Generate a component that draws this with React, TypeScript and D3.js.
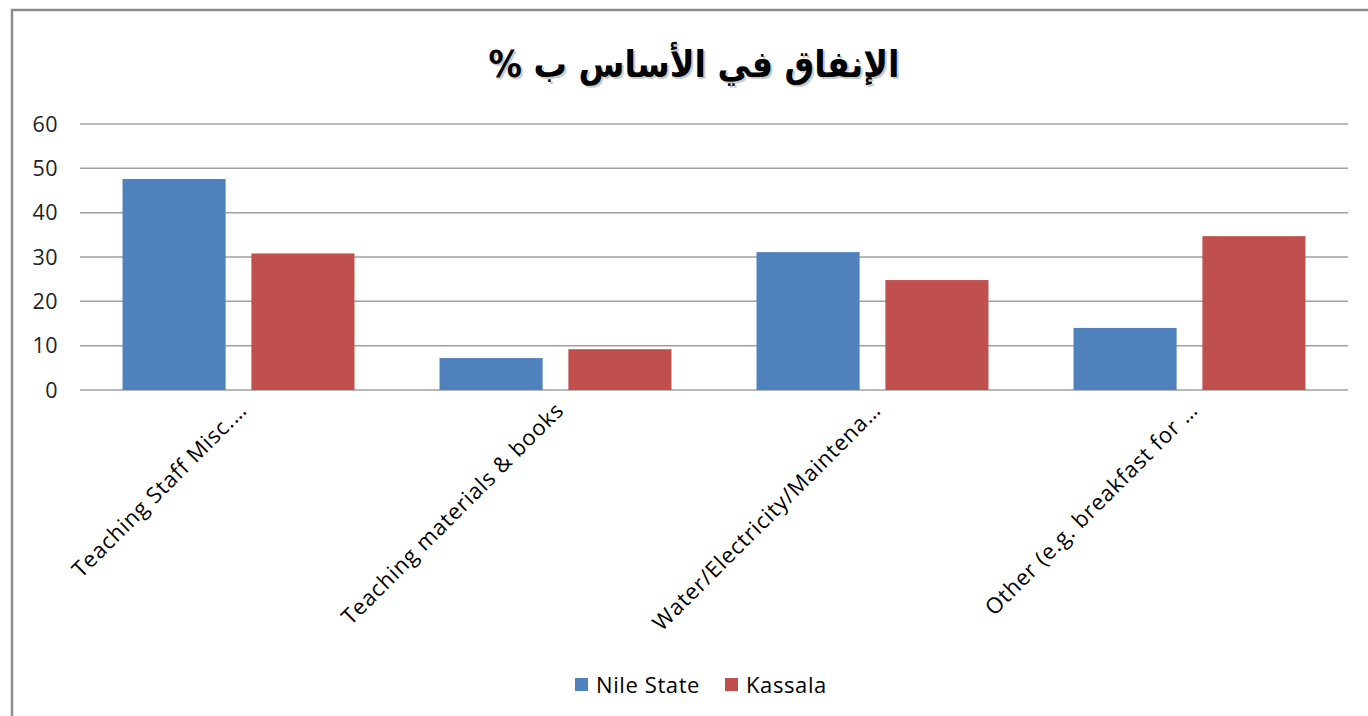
import React from "react";
import * as d3 from "d3";

const categories = [
  "Teaching Staff Misc.…",
  "Teaching materials & books",
  "Water/Electricity/Maintena…",
  "Other (e.g. breakfast for …",
];
const seriesNames = ["Nile State", "Kassala"];
const nileState = [47.6, 7.2, 31.1, 14.0];
const kassala = [30.8, 9.2, 24.8, 34.7];
const yTicks = [0, 10, 20, 30, 40, 50, 60];
const title = "الإنفاق في الأساس ب %";

const colors = ["#4F81BD", "#C0504D"];

export default function App() {
  const W = 1368, H = 716;
  const left = 80, right = 1348, top = 124, bottom = 390;
  const x0 = d3.scaleBand<string>().domain(categories).range([left, right]).paddingInner(0).paddingOuter(0);
  const x1 = d3.scaleBand<string>().domain(seriesNames).range([0, x0.bandwidth()]).paddingInner(0.2).paddingOuter(0.33);
  const y = d3.scaleLinear().domain([0, 60]).range([bottom, top]);
  const series = [nileState, kassala];
  const font = "'Open Sans', sans-serif";

  return (
    <svg width={W} height={H} style={{ position: "absolute", left: 0, top: 0, background: "#fff" }}>
      <rect x={12} y={10} width={W} height={H} fill="#fff" stroke="#8c8c8c" strokeWidth={2.5} />
      <text x={696} y={79} textAnchor="middle" direction="rtl" fontFamily="'DejaVu Sans Condensed', 'DejaVu Sans', sans-serif" fontWeight="bold" fontSize={37} fill="#999" opacity={0.5}>{title}</text>
      <text x={694} y={77} textAnchor="middle" direction="rtl" fontFamily="'DejaVu Sans Condensed', 'DejaVu Sans', sans-serif" fontWeight="bold" fontSize={37} fill="#000">{title}</text>
      {yTicks.map((t) => (
        <g key={t}>
          <line x1={left} x2={right} y1={y(t)} y2={y(t)} stroke="#a0a0a0" strokeWidth={1.5} />
          <text x={58} y={y(t)} dy="0.36em" textAnchor="end" fontFamily={font} fontSize={21.5} letterSpacing={0.5} fill="#222">{t}</text>
        </g>
      ))}
      {categories.map((c, i) => (
        <g key={c}>
          {series.map((s, j) => (
            <rect key={j} x={(x0(c) as number) + (x1(seriesNames[j]) as number)} y={y(s[i])} width={x1.bandwidth()} height={bottom - y(s[i])} fill={colors[j]} />
          ))}
          <text
            transform={`translate(${(x0(c) as number) + x0.bandwidth() / 2 - 2},${bottom + 10}) rotate(-45)`}
            textAnchor="end"
            dy="0.75em"
            fontFamily={font}
            fontSize={22}
            letterSpacing={0.8}
            fill="#000"
          >{c}</text>
        </g>
      ))}
      {seriesNames.map((n, j) => {
        const lx = [575, 725][j];
        return (
          <g key={n}>
            <rect x={lx} y={678} width={13} height={13} fill={colors[j]} />
            <text x={lx + 21} y={685} dy="0.36em" fontFamily={font} fontSize={22} letterSpacing={0.6} fill="#000">{n}</text>
          </g>
        );
      })}
    </svg>
  );
}
